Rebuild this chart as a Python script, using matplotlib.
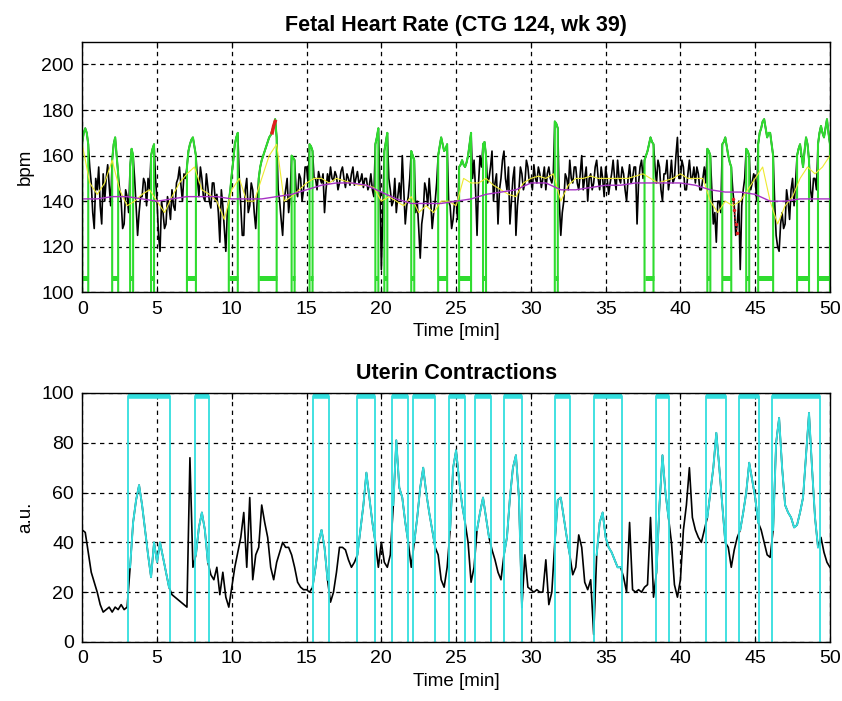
import numpy as np
import matplotlib
matplotlib.use('Agg')
import matplotlib.pyplot as plt

plt.rcParams['font.family'] = ['Liberation Sans', 'DejaVu Sans']

# ---------------- data: fetal heart rate (sampled every 0.1 min) ----------------
fhr = [
    166, 170, 172, 170, 165, 155, 148, 135, 128, 150,
    145, 155, 138, 130, 152, 140, 150, 156, 147, 138,
    158, 165, 168, 160, 152, 145, 140, 128, 130, 145,
    142, 135, 155, 163, 160, 150, 138, 125, 135, 142,
    142, 150, 148, 138, 150, 145, 160, 163, 165, 150,
    140, 125, 118, 140, 135, 128, 130, 142, 138, 132,
    145, 138, 136, 148, 150, 155, 147, 140, 152, 150,
    155, 162, 165, 167, 168, 164, 160, 150, 142, 155,
    150, 142, 140, 152, 146, 140, 137, 148, 148, 140,
    143, 135, 122, 145, 138, 128, 118, 135, 140, 145,
    152, 158, 165, 168, 170, 150, 138, 125, 125, 145,
    150, 135, 138, 148, 145, 135, 128, 140, 150, 155,
    158, 160, 162, 164, 166, 168, 169, 171, 173, 176,
    168, 145, 140, 132, 125, 140, 145, 150, 135, 142,
    160, 159, 158, 145, 142, 152, 150, 140, 145, 155,
    155, 148, 165, 164, 162, 150, 150, 145, 153, 150,
    148, 152, 135, 145, 152, 148, 155, 150, 149, 153,
    151, 145, 148, 153, 155, 150, 146, 152, 150, 147,
    152, 155, 147, 150, 153, 148, 149, 152, 146, 150,
    150, 145, 147, 152, 145, 142, 165, 168, 172, 150,
    110, 135, 162, 166, 170, 150, 145, 138, 140, 150,
    135, 142, 148, 140, 160, 145, 130, 138, 142, 150,
    162, 160, 158, 135, 140, 128, 115, 130, 135, 148,
    145, 138, 150, 140, 128, 135, 140, 148, 160, 164,
    168, 165, 162, 163, 165, 140, 138, 128, 132, 140,
    140, 132, 155, 156, 158, 156, 155, 157, 160, 165,
    170, 150, 158, 145, 125, 148, 160, 155, 165, 166,
    160, 148, 150, 155, 162, 140, 148, 152, 130, 145,
    150, 158, 162, 150, 145, 155, 130, 140, 150, 155,
    125, 138, 145, 155, 152, 145, 148, 158, 155, 148,
    150, 145, 156, 150, 148, 155, 152, 146, 150, 155,
    145, 152, 155, 150, 148, 152, 175, 174, 172, 140,
    125, 135, 140, 152, 150, 145, 158, 150, 148, 155,
    155, 148, 145, 152, 160, 145, 150, 155, 140, 150,
    152, 145, 148, 155, 158, 150, 145, 155, 150, 142,
    155, 150, 143, 148, 152, 158, 150, 145, 158, 150,
    148, 155, 152, 145, 140, 150, 156, 148, 150, 155,
    155, 130, 148, 155, 158, 150, 158, 160, 162, 165,
    168, 166, 165, 155, 148, 158, 155, 145, 140, 152,
    152, 158, 145, 150, 158, 148, 150, 160, 168, 150,
    150, 158, 155, 145, 145, 152, 158, 150, 150, 155,
    148, 155, 152, 145, 145, 150, 155, 148, 163, 162,
    160, 145, 130, 135, 122, 140, 140, 135, 165, 166,
    168, 164, 160, 157, 155, 145, 138, 125, 130, 140,
    110, 138, 145, 150, 163, 162, 160, 145, 148, 152,
    150, 140, 165, 170, 172, 175, 176, 172, 168, 170,
    170, 165, 160, 140, 125, 120, 118, 130, 135, 128,
    130, 145, 140, 132, 145, 150, 138, 148, 160, 163,
    165, 160, 155, 162, 168, 165, 158, 145, 140, 150,
    150, 145, 165, 170, 173, 170, 168, 172, 176, 170,
    165,
]
fhr_time = np.round(np.arange(len(fhr)) * 0.1, 1)

# smoothed FHR (every 0.5 min)
fhr_smooth = [
    165, 148, 143, 148, 158, 145, 138, 140, 143, 145,
    140, 135, 142, 148, 152, 155, 145, 143, 140, 132,
    145, 150, 140, 140, 150, 160, 165, 140, 142, 145,
    148, 150, 150, 148, 150, 149, 148, 147, 147, 146,
    140, 142, 140, 138, 142, 135, 138, 135, 140, 140,
    138, 150, 148, 148, 150, 147, 145, 143, 142, 148,
    150, 151, 150, 152, 140, 147, 150, 150, 151, 150,
    150, 150, 150, 150, 151, 152, 150, 148, 149, 150,
    152, 150, 150, 150, 140, 135, 140, 138, 140, 145,
    150, 155, 140, 130, 138, 142, 150, 155, 152, 155,
    160,
]
smooth_time = np.arange(len(fhr_smooth)) * 0.5

# FHR baseline (every 1 min)
baseline = [
    141, 141, 142, 142, 141, 140, 141, 142, 142, 142,
    141, 141, 141, 142, 143, 145, 147, 148, 148, 147,
    144, 141, 139, 139, 139, 140, 141, 143, 144, 145,
    148, 148, 145, 145, 146, 147, 147, 148, 148, 148,
    148, 147, 145, 144, 144, 143, 140, 140, 141, 141,
    141,
]
baseline_time = np.arange(len(baseline)) * 1.0

# accelerations (min)
acc_start = [0.0, 2.0, 3.2, 4.6, 7.0, 9.8, 11.8, 14.0, 15.2, 19.6, 20.2, 22.0,
             23.8, 25.2, 26.8, 31.6, 37.6, 41.8, 42.8, 44.4, 45.2, 47.8, 49.2]
acc_end = [0.4, 2.4, 3.4, 4.8, 7.6, 10.4, 13.0, 14.2, 15.4, 19.8, 20.4, 22.2,
           24.4, 26.0, 27.0, 31.8, 38.2, 42.0, 43.4, 44.6, 46.2, 48.6, 50.0]

# red marked segments
red1_time = [12.7, 12.8, 12.9]
red1_fhr = [170, 173, 175]
red2_time = [43.5, 43.6, 43.7, 43.8]
red2_fhr = [141, 136, 130, 126]

# ---------------- data: uterine contractions (every 0.2 min) ----------------
uc = [
    45, 44, 36, 28, 24,
    20, 15, 12, 13, 14,
    12, 14, 13, 15, 13,
    14, 30, 48, 57, 63,
    55, 45, 35, 26, 40,
    32, 40, 34, 28, 22,
    19, 18, 17, 16, 15,
    14, 74, 30, 35, 46,
    52, 45, 32, 27, 25,
    30, 19, 28, 18, 14,
    22, 30, 36, 42, 52,
    30, 58, 25, 35, 38,
    55, 48, 42, 30, 25,
    32, 36, 40, 38, 38,
    35, 30, 24, 22, 21,
    21, 20, 22, 30, 40,
    45, 38, 25, 16, 20,
    28, 38, 38, 37, 33,
    30, 32, 35, 45, 55,
    68, 58, 48, 40, 30,
    40, 32, 30, 35, 55,
    81, 62, 58, 48, 40,
    30, 40, 50, 62, 70,
    60, 52, 45, 38, 35,
    25, 22, 30, 45, 70,
    77, 65, 55, 48, 40,
    24, 30, 45, 52, 58,
    50, 42, 37, 33, 28,
    25, 35, 42, 58, 70,
    75, 58, 14, 35, 22,
    21, 20, 21, 20, 20,
    33, 15, 20, 40, 57,
    58, 50, 42, 35, 27,
    30, 43, 38, 24, 21,
    25, 3, 35, 48, 52,
    42, 38, 36, 33, 30,
    30, 26, 20, 48, 21,
    20, 21, 20, 22, 23,
    50, 18, 28, 55, 75,
    60, 50, 40, 23, 18,
    25, 45, 55, 70, 50,
    45, 42, 40, 45, 50,
    60, 70, 84, 70, 55,
    40, 38, 30, 37, 42,
    45, 52, 60, 72, 65,
    58, 48, 45, 40, 35,
    34, 45, 80, 90, 70,
    55, 52, 50, 46, 47,
    52, 58, 75, 92, 70,
    50, 38, 42, 36, 32,
    30,
]
uc_time = np.round(np.arange(len(uc)) * 0.2, 1)

uc_start = [3.05, 7.55, 15.4, 18.4, 20.7, 22.15, 24.55, 26.25, 28.2, 31.6,
            34.25, 38.4, 41.7, 43.9, 46.1]
uc_end = [5.9, 8.5, 16.5, 19.6, 21.8, 23.6, 25.6, 27.3, 29.4, 32.6,
          36.1, 39.25, 43.05, 45.25, 49.35]

x_ticks = [0, 5, 10, 15, 20, 25, 30, 35, 40, 45, 50]
fhr_ticks = [100, 120, 140, 160, 180, 200]
uc_ticks = [0, 20, 40, 60, 80, 100]

# ---------------- style ----------------
GREEN = '#2fdc2f'
CYAN = '#33dede'
YELLOW = '#eeea30'
MAGENTA = '#a632c4'
RED = '#e02020'

fhr_arr = np.array(fhr, dtype=float)
uc_arr = np.array(uc, dtype=float)

fig = plt.figure(figsize=(8.42, 7.01), dpi=100)
ax1 = fig.add_axes([0.0977, 0.583, 0.888, 0.3575])
ax2 = fig.add_axes([0.0977, 0.0842, 0.888, 0.3552])

grid_kw = dict(color='black', linestyle=(0, (3.5, 3.5)), linewidth=0.9)

# ---- top: FHR ----
ax1.plot(fhr_time, fhr_arr, color='black', lw=1.2, zorder=2)
for s, e in zip(acc_start, acc_end):
    m = (fhr_time >= s - 1e-6) & (fhr_time <= e + 1e-6)
    xs = np.concatenate([[fhr_time[m][0]], fhr_time[m], [fhr_time[m][-1]]])
    ys = np.concatenate([[100], fhr_arr[m], [100]])
    ax1.plot(xs, ys, color=GREEN, lw=1.5, zorder=3)
    ax1.plot([s, e], [106.2, 106.2], color=GREEN, lw=3.6,
             solid_capstyle='butt', zorder=3)
ax1.plot(smooth_time, fhr_smooth, color=YELLOW, lw=0.8, zorder=4)
ax1.plot(baseline_time, baseline, color=MAGENTA, lw=1.0, zorder=4)
ax1.plot(red1_time, red1_fhr, color=RED, lw=2.5, zorder=5)
ax1.plot(red2_time, red2_fhr, color=RED, lw=1.0, linestyle=':',
         marker='.', markersize=3, zorder=5)

ax1.set_xlim(0, 50)
ax1.set_ylim(100, 210)
ax1.set_xticks(x_ticks)
ax1.set_yticks(fhr_ticks)
ax1.grid(True, **grid_kw)
ax1.set_axisbelow(True)
ax1.set_title('Fetal Heart Rate (CTG 124, wk 39)', fontsize=15.5,
              fontweight='bold', pad=8)
ax1.set_xlabel('Time [min]', fontsize=13.5, labelpad=4)
ax1.set_ylabel('bpm', fontsize=13.5, labelpad=5)

# ---- bottom: UC ----
ax2.plot(uc_time, uc_arr, color='black', lw=1.2, zorder=2)
for s, e in zip(uc_start, uc_end):
    m = (uc_time >= s) & (uc_time <= e)
    ax2.plot(uc_time[m], uc_arr[m], color=CYAN, lw=1.4, zorder=3)
    ax2.plot([s, s, e, e], [0, 98.7, 98.7, 0], color=CYAN, lw=1.3, zorder=3)
    ax2.plot([s, e], [98.7, 98.7], color=CYAN, lw=4.0,
             solid_capstyle='butt', zorder=3)

ax2.set_xlim(0, 50)
ax2.set_ylim(0, 100)
ax2.set_xticks(x_ticks)
ax2.set_yticks(uc_ticks)
ax2.grid(True, **grid_kw)
ax2.set_axisbelow(True)
ax2.set_title('Uterin Contractions', fontsize=15.5, fontweight='bold', pad=10)
ax2.set_xlabel('Time [min]', fontsize=13.5, labelpad=4)
ax2.set_ylabel('a.u.', fontsize=13.5, labelpad=5)

for ax in (ax1, ax2):
    ax.tick_params(axis='both', labelsize=14, direction='in', length=4,
                   width=0.8, top=True, right=True, pad=6)
    for sp in ax.spines.values():
        sp.set_linewidth(1.0)
        sp.set_zorder(6)

fig.savefig('out.png', dpi=100)
